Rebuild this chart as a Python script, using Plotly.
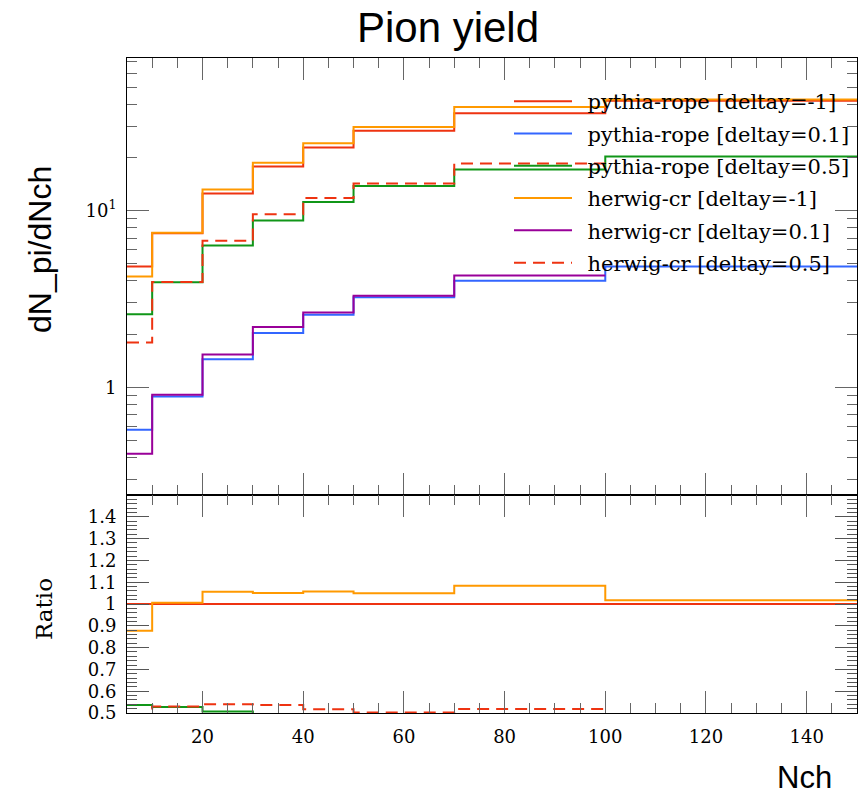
import math
import plotly.graph_objects as go
from plotly.subplots import make_subplots

# ---------------- data ----------------
bin_edges = [5, 10, 20, 30, 40, 50, 70, 100, 150]

pythia_m1 = [4.83, 7.45, 12.5, 17.8, 22.8, 28.4, 35.7, 42.0]
pythia_01 = [0.574, 0.887, 1.44, 2.03, 2.57, 3.23, 4.01, 4.83]
pythia_05 = [2.59, 3.93, 6.34, 8.81, 11.2, 13.8, 17.1, 20.3]
herwig_m1 = [4.24, 7.49, 13.2, 18.7, 24.1, 29.8, 38.7, 42.7]
herwig_01 = [0.419, 0.907, 1.53, 2.19, 2.65, 3.30, 4.30, None]
herwig_05 = [1.79, 3.95, 6.75, 9.55, 11.8, 14.25, 18.5, None]

series_names = [
    "pythia-rope [deltay=-1]",
    "pythia-rope [deltay=0.1]",
    "pythia-rope [deltay=0.5]",
    "herwig-cr [deltay=-1]",
    "herwig-cr [deltay=0.1]",
    "herwig-cr [deltay=0.5]",
]
series_values = [pythia_m1, pythia_01, pythia_05, herwig_m1, herwig_01, herwig_05]
series_colors = ["#EE3311", "#3366FF", "#109618", "#FF9900", "#990099", "#EE3311"]
series_dash = ["solid", "solid", "solid", "solid", "solid", "12px,7px"]

x_tick_vals = [20, 40, 60, 80, 100, 120, 140]
y_tick_vals = [1, 10]
y_tick_text = ["1", "10<sup>1</sup>"]
ratio_tick_vals = [0.5, 0.6, 0.7, 0.8, 0.9, 1.0, 1.1, 1.2, 1.3, 1.4]
ratio_tick_text = ["0.5", "0.6", "0.7", "0.8", "0.9", "1", "1.1", "1.2", "1.3", "1.4"]


def step_xy(edges, vals):
    xs, ys = [], []
    for lo, hi, v in zip(edges[:-1], edges[1:], vals):
        if v is None:
            xs.append(None); ys.append(None)
            continue
        xs += [lo, hi]
        ys += [v, v]
    return xs, ys


def ratio(vals, ref):
    return [None if (v is None or r is None) else v / r for v, r in zip(vals, ref)]


SERIF = "DejaVu Serif, Liberation Serif, serif"
SANS = "Liberation Sans, Arial, sans-serif"

W, H = 860, 798
L, R = 127, 857
T, MID, B = 58, 495, 713
plot_h = B - T
ratio_frac = (B - MID) / plot_h

fig = make_subplots(rows=2, cols=1, shared_xaxes=False, vertical_spacing=0,
                    row_heights=[1 - ratio_frac, ratio_frac])

for name, vals, col, dash in zip(series_names, series_values, series_colors, series_dash):
    xs, ys = step_xy(bin_edges, vals)
    fig.add_trace(go.Scatter(x=xs, y=ys, mode="lines", name="\u2002" + name,
                             line=dict(color=col, width=2, dash=dash),
                             legendgroup=name, showlegend=True), row=1, col=1)

# ratio panel (reference: first series)
for name, vals, col, dash in zip(series_names, series_values, series_colors, series_dash):
    xs, ys = step_xy(bin_edges, ratio(vals, pythia_m1))
    fig.add_trace(go.Scatter(x=xs, y=ys, mode="lines", name=name,
                             line=dict(color=col, width=2, dash=dash),
                             legendgroup=name, showlegend=False), row=2, col=1)

xr = [5, 150]
common_x = dict(range=xr, showline=True, linecolor="black", linewidth=1, mirror="ticks",
                ticks="inside", ticklen=22, tickcolor="#666", tickwidth=1.2,
                tickvals=x_tick_vals, showgrid=False, zeroline=False,
                minor=dict(ticks="inside", ticklen=10, dtick=5, tick0=0, tickcolor="#666",
                           tickwidth=1.2, showgrid=False))
fig.update_xaxes(**common_x, showticklabels=False, row=1, col=1)
fig.update_xaxes(**common_x, showticklabels=True, ticklabelstandoff=7,
                 tickfont=dict(family=SERIF, size=18, color="black"), row=2, col=1)

minor_log = [0.3, 0.4, 0.5, 0.6, 0.7, 0.8, 0.9, 2, 3, 4, 5, 6, 7, 8, 9, 20, 30, 40, 50, 60, 70]
fig.update_yaxes(type="log", range=[math.log10(0.245), math.log10(73.3)],
                 showline=True, linecolor="black", linewidth=1, mirror="ticks",
                 ticks="inside", ticklen=22, tickcolor="#666", tickwidth=1.2,
                 tickvals=y_tick_vals, ticktext=y_tick_text, showgrid=False, zeroline=False,
                 tickfont=dict(family=SERIF, size=18, color="black"), ticklabelstandoff=6,
                 minor=dict(ticks="inside", ticklen=10, tickvals=minor_log, tickcolor="#666",
                            tickwidth=1.2, showgrid=False),
                 row=1, col=1)
fig.update_yaxes(range=[0.5, 1.5],
                 showline=True, linecolor="black", linewidth=1, mirror="ticks",
                 ticks="inside", ticklen=22, tickcolor="#555", tickwidth=1.2,
                 tickvals=ratio_tick_vals, ticktext=ratio_tick_text, showgrid=False, zeroline=False,
                 tickfont=dict(family=SERIF, size=18, color="black"), ticklabelstandoff=6,
                 minor=dict(ticks="inside", ticklen=10, dtick=0.02, tick0=0.5, tickcolor="#555",
                            tickwidth=1.2, showgrid=False),
                 row=2, col=1)

fig.update_layout(
    width=W, height=H,
    margin=dict(l=L, r=W - R, t=T, b=H - B, pad=0, autoexpand=False),
    paper_bgcolor="white", plot_bgcolor="white",
    title=dict(text="Pion yield", x=448 / W, xanchor="center", y=1 - 27 / H, yanchor="middle",
               xref="container", yref="container",
               font=dict(family=SANS, size=42, color="black")),
    legend=dict(x=(509 - L) / (R - L), xanchor="left", y=1 - (81 - T) / plot_h, yanchor="top",
                bgcolor="rgba(0,0,0,0)", borderwidth=0, itemwidth=58,
                tracegroupgap=2, font=dict(family=SERIF, size=21, color="black")),
    showlegend=True,
)

fig.add_annotation(text="dN_pi/dNch", x=40, y=250, showarrow=False,
                   textangle=-90, font=dict(family=SANS, size=32, color="black"))
fig.add_annotation(text="Ratio", x=44, y=609, showarrow=False, textangle=-90,
                   font=dict(family=SERIF, size=23, color="black"))
fig.add_annotation(text="Nch", x=804, y=777, showarrow=False,
                   font=dict(family=SANS, size=31, color="black"))

# convert pixel-positioned annotations to paper coords
for a in fig.layout.annotations:
    px, py = a.x, a.y
    a.xref = "paper"; a.yref = "paper"
    a.xanchor = "center"; a.yanchor = "middle"
    a.x = (px - L) / (R - L)
    a.y = (B - py) / plot_h

fig.write_html("out.html", post_script="document.body.style.margin='0px';",
               config={"displayModeBar": False})
